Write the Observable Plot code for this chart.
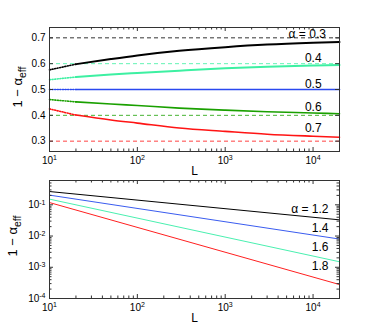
<!DOCTYPE html>
<html><head><meta charset="utf-8">
<script src="https://cdn.jsdelivr.net/npm/d3@7"></script>
<script src="https://cdn.jsdelivr.net/npm/@observablehq/plot@0.6"></script>
<style>
body{margin:0;background:#fff;width:374px;height:328px;overflow:hidden}
#c{width:374px;height:328px}
svg{display:block;overflow:visible}
</style></head><body><div id="c"></div>
<script>
// ---------- data: top panel ----------
const Lgrid = [10, 20, 50, 100, 300, 1000, 3000, 10000, 20000];
const alphaTop = [0.3, 0.4, 0.5, 0.6, 0.7];
const limitsTop = [0.7, 0.6, 0.5, 0.4, 0.3];
const curve03 = [0.576, 0.598, 0.618, 0.632, 0.650, 0.664, 0.674, 0.681, 0.684];
const curve04 = [0.538, 0.548, 0.558, 0.564, 0.573, 0.582, 0.588, 0.593, 0.595];
const curve05 = [0.500, 0.500, 0.500, 0.500, 0.500, 0.500, 0.500, 0.500, 0.500];
const curve06 = [0.461, 0.452, 0.444, 0.438, 0.428, 0.420, 0.414, 0.409, 0.406];
const curve07 = [0.425, 0.401, 0.382, 0.370, 0.351, 0.338, 0.327, 0.319, 0.315];
const labelsTop = ["α = 0.3", "0.4", "0.5", "0.6", "0.7"];
const yTicksTop = [0.3, 0.4, 0.5, 0.6, 0.7];
const yTickLabelsTop = ["0.3", "0.4", "0.5", "0.6", "0.7"];

// ---------- data: bottom panel ----------
const Lends = [10, 20000];
const alphaBot = [1.2, 1.4, 1.6, 1.8];
const line12 = [0.266, 0.033];
const line14 = [0.204, 0.008];
const line16 = [0.152, 0.0015];
const line18 = [0.118, 0.00028];
const labelsBot = ["α = 1.2", "1.4", "1.6", "1.8"];
const yTicksBot = [1e-4, 1e-3, 1e-2, 1e-1];
const yTickLabelsBot = ["10^-4", "10^-3", "10^-2", "10^-1"];

// ---------- shared ----------
const xTicks = [10, 100, 1000, 10000];
const xTickLabels = ["10^1", "10^2", "10^3", "10^4"];

// ---------- styles ----------
const colorsTop = ["#000000", "#3df0a2", "#2a48f0", "#1aa000", "#ff1414"];
const colorsBot = ["#000000", "#3a5cf0", "#4af0b0", "#ff2020"];
const labelPosTop = [[14000, 0.700], [12500, 0.605], [12500, 0.504], [12500, 0.415], [12500, 0.336]];
const labelPosBot = [[15000, 0.0555], [15000, 0.0137], [15000, 0.00339], [15000, 0.00084]];
const FONT = "'Liberation Sans Narrow', 'Liberation Sans', Arial, sans-serif";
const FONT_Y = "'Liberation Sans', Arial, sans-serif";

const curvesTop = [curve03, curve04, curve05, curve06, curve07];
const linesBot = [line12, line14, line16, line18];

const xMinor = [];
for (const d of xTicks) for (let m = 2; m <= 9; m++) if (m * d < 20000) xMinor.push(m * d);
const yMinorBot = [];
for (const d of yTicksBot) for (let m = 2; m <= 9; m++) if (m * d < 0.6) yMinorBot.push(m * d);

function tickRules(xs, ys, fw, fh, len) {
  return [
    Plot.ruleX(xs, {x: d => d, insetTop: fh - len, stroke: "#333"}),
    Plot.ruleX(xs, {x: d => d, insetBottom: fh - len, stroke: "#333"}),
    ...(ys ? [Plot.ruleY(ys, {y: d => d, insetRight: fw - len, stroke: "#333"}),
              Plot.ruleY(ys, {y: d => d, insetLeft: fw - len, stroke: "#333"})] : [])
  ];
}

function supify(svg) {
  svg.querySelectorAll("text").forEach(t => {
    const s = t.textContent;
    if (/^10\^/.test(s)) {
      const [base, exp] = s.split("^");
      t.textContent = base;
      const ts = document.createElementNS("http://www.w3.org/2000/svg", "tspan");
      ts.setAttribute("dy", "-0.5em");
      ts.setAttribute("font-size", "0.7em");
      ts.textContent = exp;
      t.appendChild(ts);
    }
  });
}

function ylabel(svg, x, y) {
  const t = d3.select(svg).append("text")
    .attr("transform", `translate(${x},${y}) rotate(-90)`)
    .attr("text-anchor", "middle")
    .attr("font-family", FONT_Y)
    .attr("font-size", 13)
    .attr("fill", "black");
  t.append("tspan").text("1 − α");
  t.append("tspan").attr("dy", "0.4em").attr("font-size", 10.5).text("eff");
}

// ---------- top panel ----------
{
  const W = 374, H = 176, mt = 27, mb = 25, ml = 49, mr = 35;
  const fw = W - ml - mr, fh = H - mt - mb;
  const rows = curvesTop.flatMap((c, i) => Lgrid.map((L, j) => ({i, L, v: c[j]})));
  const plot = Plot.plot({
    width: W, height: H, marginTop: mt, marginBottom: mb, marginLeft: ml, marginRight: mr,
    style: {fontFamily: FONT, background: "white", color: "black"},
    x: {type: "log", domain: [10, 20000]},
    y: {domain: [0.26, 0.74]},
    marks: [
      ...limitsTop.map((v, i) => Plot.ruleY([v], {stroke: colorsTop[i], strokeDasharray: "4,3", strokeWidth: 1, strokeOpacity: 0.8})),
      ...alphaTop.map((a, i) => Plot.line(rows.filter(r => r.i === i && r.L <= 20), {x: "L", y: "v", stroke: colorsTop[i], strokeWidth: 1.6, strokeDasharray: "1,1.6"})),
      ...alphaTop.map((a, i) => Plot.line(rows.filter(r => r.i === i && r.L >= 20), {x: "L", y: "v", stroke: colorsTop[i], strokeWidth: i < 2 ? 2 : 1.6, curve: "monotone-x"})),
      Plot.text(labelsTop.map((t, i) => ({t, x: labelPosTop[i][0], y: labelPosTop[i][1]})), {x: "x", y: "y", text: "t", textAnchor: "end", lineAnchor: "bottom", fontSize: 12, fill: "black"}),
      ...tickRules(xTicks, yTicksTop, fw, fh, 4),
      ...tickRules(xMinor, null, fw, fh, 2.5),
      Plot.axisX(xTicks, {anchor: "bottom", tickSize: 0, tickPadding: 5, fontSize: 10, label: null, tickFormat: d => xTickLabels[xTicks.indexOf(d)]}),
      Plot.axisY(yTicksTop, {anchor: "left", tickSize: 0, tickPadding: 4, fontSize: 10, label: null, tickFormat: d => yTickLabelsTop[yTicksTop.indexOf(d)]}),
      Plot.text(["L"], {frameAnchor: "bottom", dy: 23, lineAnchor: "bottom", fontSize: 12, fill: "black"}),
      Plot.frame({stroke: "#333"})
    ]
  });
  supify(plot);
  ylabel(plot, 22, 87);
  document.getElementById("c").appendChild(plot);
}

// ---------- bottom panel ----------
{
  const W = 374, H = 152, mt = 4, mb = 30, ml = 49, mr = 35;
  const fw = W - ml - mr, fh = H - mt - mb;
  const rows = linesBot.flatMap((c, i) => Lends.map((L, j) => ({i, L, v: c[j]})));
  const plot = Plot.plot({
    width: W, height: H, marginTop: mt, marginBottom: mb, marginLeft: ml, marginRight: mr,
    style: {fontFamily: FONT, background: "white", color: "black"},
    x: {type: "log", domain: [10, 20000]},
    y: {type: "log", domain: [1e-4, 0.6]},
    marks: [
      ...alphaBot.map((a, i) => Plot.line(rows.filter(r => r.i === i), {x: "L", y: "v", stroke: colorsBot[i], strokeWidth: 1})),
      Plot.text(labelsBot.map((t, i) => ({t, x: labelPosBot[i][0], y: labelPosBot[i][1]})), {x: "x", y: "y", text: "t", textAnchor: "end", lineAnchor: "bottom", fontSize: 12, fill: "black"}),
      ...tickRules(xTicks, yTicksBot, fw, fh, 4),
      ...tickRules(xMinor, yMinorBot, fw, fh, 2.5),
      Plot.axisX(xTicks, {anchor: "bottom", tickSize: 0, tickPadding: 5, fontSize: 10, label: null, tickFormat: d => xTickLabels[xTicks.indexOf(d)]}),
      Plot.axisY(yTicksBot, {anchor: "left", tickSize: 0, tickPadding: 4, fontSize: 10, label: null, tickFormat: d => yTickLabelsBot[yTicksBot.indexOf(d)]}),
      Plot.text(["L"], {frameAnchor: "bottom", dy: 23, lineAnchor: "bottom", fontSize: 12, fill: "black"}),
      Plot.frame({stroke: "#333"})
    ]
  });
  supify(plot);
  ylabel(plot, 17, 60);
  document.getElementById("c").appendChild(plot);
}
</script>
</body></html>
